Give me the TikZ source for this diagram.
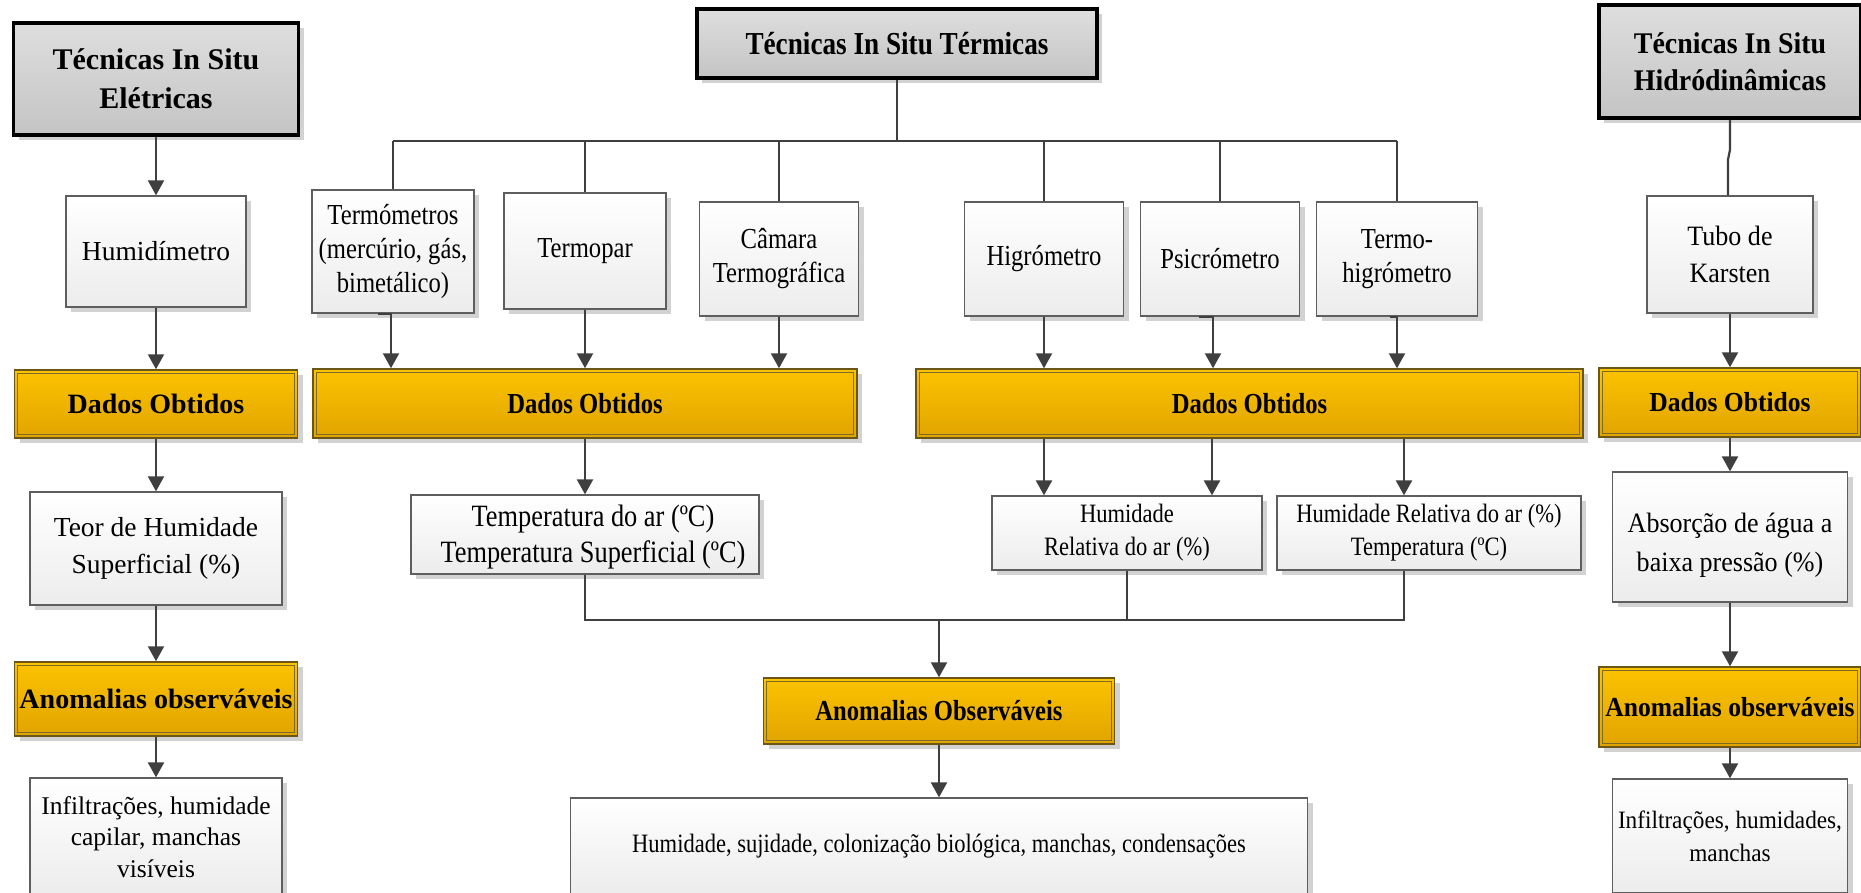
\documentclass[tikz,border=0pt]{standalone}
\usepackage{fontspec}
\setmainfont{Liberation Serif}
\newfontfamily\condserif[FakeStretch=0.85]{Liberation Serif}
\newfontfamily\narrowserif[FakeStretch=0.93]{Liberation Serif}
\usetikzlibrary{arrows.meta,shadows}

\definecolor{inkgray}{HTML}{3F3F3F}
\definecolor{edgegray}{HTML}{5E5E5E}
\definecolor{titletop}{HTML}{DEDEDE}
\definecolor{titlebot}{HTML}{C4C4C4}
\definecolor{paletop}{HTML}{FFFFFF}
\definecolor{palebot}{HTML}{ECECEC}
\definecolor{goldtop}{HTML}{FCC300}
\definecolor{goldbot}{HTML}{E0A400}
\definecolor{goldedge}{HTML}{6A5718}
\definecolor{goldinner}{HTML}{7D6A28}
\definecolor{shadowgray}{HTML}{D2D2D2}

% font sizes (1pt = 1 unit of the drawing)
\newcommand\fTitleSide{\bfseries\fontsize{30}{39}\selectfont}
\newcommand\fTitleRight{\narrowserif\bfseries\fontsize{30}{37}\selectfont}
\newcommand\fTitleMid{\condserif\bfseries\fontsize{32}{38}\selectfont}
\newcommand\fGoldLeft{\bfseries\fontsize{28}{34}\selectfont}
\newcommand\fGoldRight{\narrowserif\bfseries\fontsize{27.5}{34}\selectfont}
\newcommand\fGoldMid{\condserif\bfseries\fontsize{29}{34}\selectfont}
\newcommand\fTextLeft{\fontsize{27.5}{37}\selectfont}
\newcommand\fTextLeftSm{\fontsize{25.5}{31.5}\selectfont}
\newcommand\fTextRight{\narrowserif\fontsize{28}{37}\selectfont}
\newcommand\fTextRightAbs{\narrowserif\fontsize{28}{39}\selectfont}
\newcommand\fTextRightSm{\narrowserif\fontsize{25}{33}\selectfont}
\newcommand\fInstr{\condserif\fontsize{29}{34}\selectfont}
\newcommand\fTemp{\condserif\fontsize{31}{36}\selectfont}
\newcommand\fHum{\condserif\fontsize{26.5}{33}\selectfont}
\newcommand\fBottom{\condserif\fontsize{26.5}{32}\selectfont}

\tikzset{
  basebox/.style={rectangle, inner sep=0pt, align=center,
    drop shadow={shadow xshift=5pt, shadow yshift=-5pt, fill=shadowgray, opacity=1}},
  titlebox/.style={basebox, draw=black, line width=3.5pt, top color=titletop, bottom color=titlebot},
  palebox/.style={basebox, draw=edgegray, line width=1.3pt, top color=paletop, bottom color=palebot},
  goldbox/.style={basebox, draw=goldedge, line width=1.5pt, top color=goldtop, bottom color=goldbot},
  goldrim/.style={draw=goldinner, line width=1pt},
  boxtext/.style={inner sep=0pt, align=center},
  wire/.style={draw=inkgray, line width=2.2pt},
  arrowline/.style={wire, -{Triangle[length=15pt,width=16pt]}},
}

\begin{document}
\begin{tikzpicture}[x=1pt,y=-1pt]
\useasboundingbox (0,0) rectangle (1861,892);
\clip (0,0) rectangle (1861,892);
\fill[white] (0,0) rectangle (1861,892);

% ---------------- electrical techniques (left column) ----------------
\node[titlebox, minimum width=285pt, minimum height=112pt, font=\fTitleSide] (tE) at (156,79) {Técnicas In Situ\\Elétricas};
\node[palebox, minimum width=180pt, minimum height=111pt, font=\fTextLeft] (hum) at (156,251.5) {Humidímetro};
\node[goldbox, minimum width=283pt, minimum height=68pt, font=\fGoldLeft] (dE) at (156,404) {Dados Obtidos};
\node[palebox, minimum width=252pt, minimum height=113pt, font=\fTextLeft] (teor) at (156,548.5) {Teor de Humidade\\Superficial (\%)};
\node[goldbox, minimum width=283pt, minimum height=74pt, font=\fGoldLeft] (aE) at (156,699) {Anomalias observáveis};
\node[palebox, minimum width=252pt, minimum height=118pt, font=\fTextLeftSm] (infE) at (156,837) {Infiltrações, humidade\\capilar, manchas\\visíveis};

\draw[arrowline] (tE.south) -- (hum.north);
\draw[arrowline] (hum.south) -- (dE.north);
\draw[arrowline] (dE.south) -- (teor.north);
\draw[arrowline] (teor.south) -- (aE.north);
\draw[arrowline] (aE.south) -- (infE.north);

% ---------------- thermal techniques (middle) ----------------
\node[titlebox, minimum width=400pt, minimum height=69pt, font=\fTitleMid] (tT) at (897,43.5) {Técnicas In Situ Térmicas};

\node[palebox, minimum width=162pt, minimum height=123pt, font=\fInstr] (termo) at (393,251.5) {Termómetros\\(mercúrio, gás,\\bimetálico)};
\node[palebox, minimum width=162pt, minimum height=116pt, font=\fInstr] (termopar) at (585,251) {Termopar};
\node[palebox, minimum width=159pt, minimum height=114pt, font=\fInstr] (camara) at (779,259) {Câmara\\Termográfica};
\node[palebox, minimum width=159pt, minimum height=114pt, font=\fInstr] (higro) at (1044,259) {Higrómetro};
\node[palebox, minimum width=159pt, minimum height=114pt, font=\fInstr] (psicro) at (1220,259) {Psicrómetro};
\node[palebox, minimum width=161pt, minimum height=114pt, font=\fInstr] (termohig) at (1397,259) {Termo-\\higrómetro};

\node[goldbox, minimum width=544pt, minimum height=69pt, font=\fGoldMid] (dM1) at (585,403.5) {Dados Obtidos};
\node[goldbox, minimum width=667pt, minimum height=69pt, font=\fGoldMid] (dM2) at (1249.5,403.5) {Dados Obtidos};

\node[palebox, minimum width=348pt, minimum height=79pt] (temp) at (585,534.5) {};
\node[boxtext, font=\fTemp] (tempText) at ([xshift=8pt,yshift=-3pt]temp.center) {Temperatura do ar (ºC)\\Temperatura Superficial (ºC)};
\node[palebox, minimum width=270pt, minimum height=74pt, font=\fHum] (humR) at (1127,533) {Humidade\\Relativa do ar (\%)};
\node[palebox, minimum width=304pt, minimum height=74pt, font=\fHum] (humT) at (1429,533) {Humidade Relativa do ar (\%)\\Temperatura (ºC)};

\node[goldbox, minimum width=351pt, minimum height=66pt, font=\fGoldMid] (aM) at (939,711) {Anomalias Observáveis};
\node[palebox, minimum width=737pt, minimum height=97pt, font=\fBottom] (botM) at (939,846.5) {Humidade, sujidade, colonização biológica, manchas, condensações};

% branching bus under the title
\coordinate (busT) at (897,141);
\draw[wire] (tT.south) -- (busT);
\draw[wire] (termo.north |- busT) -- (termohig.north |- busT);
\foreach \n in {termo,termopar,camara,higro,psicro,termohig}
  \draw[wire] (\n.north |- busT) -- (\n.north);

% instruments to obtained data
\draw[arrowline] ([xshift=-15pt]termo.south) -- ([xshift=-2pt]termo.south) -- ([xshift=-2pt]termo.south |- dM1.north);
\draw[arrowline] (termopar.south) -- (termopar.south |- dM1.north);
\draw[arrowline] (camara.south) -- (camara.south |- dM1.north);
\draw[arrowline] (higro.south) -- (higro.south |- dM2.north);
\draw[arrowline] ([xshift=-21pt]psicro.south) -- ([xshift=-7pt]psicro.south) -- ([xshift=-7pt]psicro.south |- dM2.north);
\draw[arrowline] ([xshift=-7pt]termohig.south) -- (termohig.south) -- (termohig.south |- dM2.north);

% obtained data to measured quantities
\draw[arrowline] (dM1.south) -- (temp.north);
\draw[arrowline] (higro.south |- dM2.south) -- (higro.south |- humR.north);
\draw[arrowline] ([xshift=-8pt]psicro.south |- dM2.south) -- ([xshift=-8pt]psicro.south |- humR.north);
\draw[arrowline] ([xshift=7pt]termohig.south |- dM2.south) -- ([xshift=7pt]termohig.south |- humT.north);

% merging bus towards the anomalies
\coordinate (busB) at (939,620);
\draw[wire] (temp.south) -- (temp.south |- busB) -- ([xshift=7pt]termohig.south |- busB) -- ([xshift=7pt]termohig.south |- humT.south);
\draw[wire] (humR.south) -- (humR.south |- busB);
\draw[arrowline] (busB) -- (aM.north);
\draw[arrowline] (aM.south) -- (botM.north);

% ---------------- hydrodynamic techniques (right column) ----------------
\node[titlebox, minimum width=262pt, minimum height=113pt, font=\fTitleRight] (tH) at (1730,61.5) {Técnicas In Situ\\Hidródinâmicas};
\node[palebox, minimum width=166pt, minimum height=117pt, font=\fTextRight] (tubo) at (1730,254.5) {Tubo de\\Karsten};
\node[goldbox, minimum width=262pt, minimum height=69pt, font=\fGoldRight] (dH) at (1730,402.5) {Dados Obtidos};
\node[palebox, minimum width=235pt, minimum height=130pt] (abs) at (1730,537) {};
\node[boxtext, font=\fTextRightAbs] (absText) at ([yshift=-8pt]abs.center) {Absorção de água a\\baixa pressão (\%)};
\node[goldbox, minimum width=262pt, minimum height=80pt, font=\fGoldRight] (aH) at (1730,707) {Anomalias observáveis};
\node[palebox, minimum width=235pt, minimum height=114pt, font=\fTextRightSm] (infH) at (1730,836) {Infiltrações, humidades,\\manchas};

\draw[wire] (tH.south) -- ([yshift=-30pt]tH.south) -- ([xshift=-2pt,yshift=-40pt]tH.south) -- ([xshift=-2pt]tubo.north);
\draw[arrowline] (tubo.south) -- (dH.north);
\draw[arrowline] (dH.south) -- (abs.north);
\draw[arrowline] (abs.south) -- (aH.north);
\draw[arrowline] (aH.south) -- (infH.north);

% inner rim of the golden boxes
\foreach \n in {dE,aE,dM1,dM2,aM,dH,aH}
  \draw[goldrim] ([xshift=4pt,yshift=-4pt]\n.north west) rectangle ([xshift=-4pt,yshift=4pt]\n.south east);

\end{tikzpicture}
\end{document}
